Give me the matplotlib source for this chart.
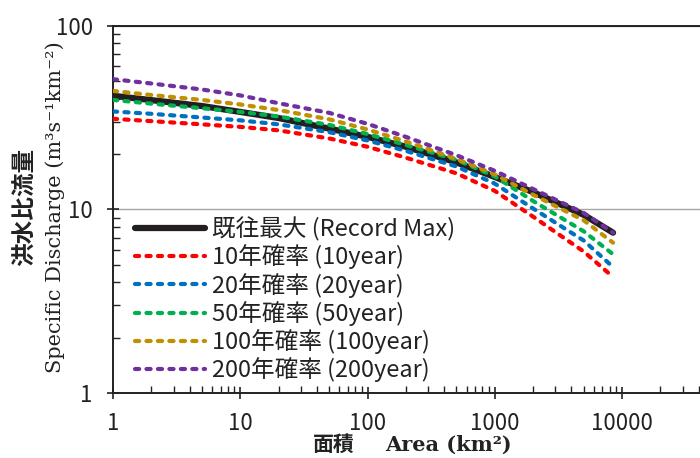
import matplotlib
matplotlib.use("Agg")
import matplotlib.pyplot as plt

# catchment area (km2) and specific discharge (m3/s/km2)
area = [1, 2, 5, 10, 20, 50, 100, 200, 500, 1000, 2000, 5000, 8500]
record_max = [41.5, 39.3, 36.5, 33.9, 31.4, 27.5, 24.8, 21.9, 18.0, 15.0, 12.4, 9.33, 7.46]
q10 = [31.1, 30.2, 29.0, 28.1, 26.9, 24.3, 21.9, 19.1, 15.7, 12.6, 9.12, 5.89, 4.28]
q20 = [34.1, 33.1, 31.6, 30.5, 29.0, 26.3, 23.7, 20.8, 17.1, 13.8, 10.1, 6.76, 4.85]
q50 = [39.4, 37.6, 35.5, 33.9, 32.0, 28.8, 25.7, 22.4, 18.6, 15.1, 11.1, 7.59, 5.69]
q100 = [44.1, 41.9, 39.4, 37.2, 34.7, 30.9, 27.2, 23.4, 18.8, 15.5, 12.0, 8.71, 6.58]
q200 = [51.1, 48.4, 44.9, 41.7, 37.8, 33.5, 29.2, 24.8, 19.7, 16.2, 12.9, 9.55, 7.46]

labels = ["既往最大 (Record Max)", "10年確率 (10year)", "20年確率 (20year)",
          "50年確率 (50year)", "100年確率 (100year)", "200年確率 (200year)"]
colors = ["#231f20", "#ff0000", "#0070c0", "#00b050", "#c09000", "#7030a0"]

x_ticks = [1, 10, 100, 1000, 10000]
x_ticklabels = ["1", "10", "100", "1000", "10000"]
y_ticks = [1, 10, 100]
y_ticklabels = ["1", "10", "100"]

plt.rcParams['font.family'] = ['Noto Sans CJK JP', 'DejaVu Sans']

fig = plt.figure(figsize=(7, 4.58), dpi=100)
# axes run past the right edge of the picture like the original
ax = fig.add_axes([0.1614, 0.1419, 0.909, 0.8022])

series = [record_max, q10, q20, q50, q100, q200]
for i, (vals, lab, col) in enumerate(zip(series, labels, colors)):
    if i == 0:
        ax.plot(area, vals, color=col, lw=4.5, solid_capstyle='round', label=lab, zorder=2)
    else:
        ax.plot(area, vals, color=col, lw=3, dashes=(1.0, 1.75),
                dash_capstyle='round', label=lab, zorder=3)

ax.set_xscale('log')
ax.set_yscale('log')
ax.set_xlim(1, 1e5)
ax.set_ylim(1, 100)
ax.set_xticks(x_ticks, x_ticklabels)
ax.set_yticks(y_ticks, y_ticklabels)
ax.yaxis.grid(True, which='major', color='#a6a6a6', lw=1)
ax.set_axisbelow(True)

ax.tick_params(which='major', direction='inout', length=9, width=1.2,
               labelsize=16, color='#222222', labelcolor='#222222')
ax.tick_params(axis='x', which='major', pad=9)
ax.tick_params(axis='y', which='major', pad=10)
ax.tick_params(which='minor', direction='in', length=5, width=1, color='#222222')

ax.spines['right'].set_visible(False)
for s in ['left', 'top', 'bottom']:
    ax.spines[s].set_linewidth(1.4)
    ax.spines[s].set_color('#222222')

leg = ax.legend(loc='upper left', bbox_to_anchor=(0.193, 0.527), bbox_transform=fig.transFigure,
                frameon=False, fontsize=17, handlelength=2.95, handletextpad=0.3,
                labelspacing=0.14, borderpad=0, borderaxespad=0)
for t in leg.get_texts():
    t.set_color('#222222')

fig.text(0.036, 0.548, "洪水比流量", rotation=90, ha='center', va='center',
         fontsize=17, fontweight='bold', color='#222222')
fig.text(0.079, 0.548, "Specific Discharge (m³s⁻¹km⁻²)", rotation=90, ha='center',
         va='center', fontsize=15, family=['DejaVu Serif'], color='#222222')
fig.text(0.507, 0.029, "面積", ha='right', va='center', fontsize=15,
         fontweight='bold', color='#222222')
fig.text(0.55, 0.029, "Area (km²)", ha='left', va='center', fontsize=15,
         fontweight='bold', family=['DejaVu Serif'], color='#222222')

fig.savefig("out.png", dpi=100)
